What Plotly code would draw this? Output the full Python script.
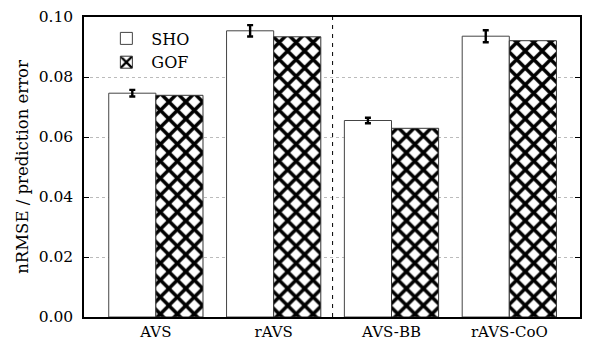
import plotly.graph_objects as go

categories = ["AVS", "rAVS", "AVS-BB", "rAVS-CoO"]
sho = [0.0746, 0.0954, 0.0655, 0.0936]
sho_err = [0.0011, 0.0019, 0.0009, 0.0020]
gof = [0.0739, 0.0934, 0.0629, 0.0921]
yticks = [0.0, 0.02, 0.04, 0.06, 0.08, 0.10]

FONT = "DejaVu Serif"
xs = list(range(len(categories)))

fig = go.Figure()
fig.add_trace(go.Bar(
    x=xs, y=sho, name="SHO",
    marker=dict(color="white", line=dict(color="#444", width=1)),
    error_y=dict(type="data", array=sho_err, color="black", thickness=2.4, width=3),
))
fig.add_trace(go.Bar(
    x=xs, y=gof, name="GOF",
    marker=dict(color="white", line=dict(color="#333", width=1),
                pattern=dict(shape="x", size=12, solidity=0.5, fgcolor="black",
                             bgcolor="white", fgopacity=1)),
))

fig.add_shape(type="line", x0=1.5, x1=1.5, xref="x", y0=0, y1=1, yref="y domain",
              line=dict(color="black", width=1, dash="4px,5px"))

fig.update_layout(
    width=590, height=349,
    margin=dict(l=84, r=8, t=10, b=31),
    paper_bgcolor="white", plot_bgcolor="white",
    barmode="group", bargap=0.2, bargroupgap=0,
    font=dict(family=FONT, size=15, color="black"),
    showlegend=True,
    legend=dict(x=0.035, y=0.985, xanchor="left", yanchor="top", bgcolor="rgba(0,0,0,0)",
                font=dict(family=FONT, size=16), itemwidth=40, tracegroupgap=0),
    xaxis=dict(tickmode="array", tickvals=xs, ticktext=categories, range=[-0.61, 3.6],
               showline=True, linecolor="black", linewidth=1.5, mirror=True,
               ticks="", showgrid=False, tickfont=dict(family=FONT, size=15)),
    yaxis=dict(range=[0, 0.1], tickvals=yticks, tickformat=".2f",
               showline=True, linecolor="black", linewidth=1.5, mirror="ticks",
               ticks="inside", ticklen=5, tickcolor="black", ticklabelstandoff=6,
               showgrid=True, gridcolor="#bbbbbb", griddash="dot", gridwidth=1,
               zeroline=False, tickfont=dict(family=FONT, size=15.5),
               title=dict(text="nRMSE / prediction error",
                          font=dict(family=FONT, size=16.5), standoff=6)),
)

fig.write_html("out.html")
